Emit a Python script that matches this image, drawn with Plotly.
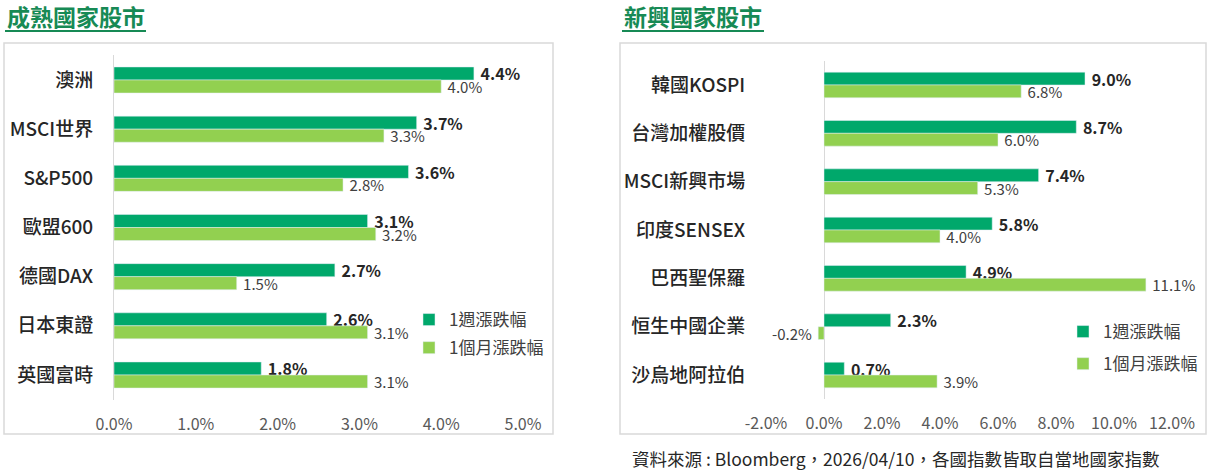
import plotly.graph_objects as go

# 成熟國家股市
dev_names = ["澳洲", "MSCI世界", "S&P500", "歐盟600", "德國DAX", "日本東證", "英國富時"]
dev_week = [4.4, 3.7, 3.6, 3.1, 2.7, 2.6, 1.8]
dev_month = [4.0, 3.3, 2.8, 3.2, 1.5, 3.1, 3.1]

# 新興國家股市
emg_names = ["韓國KOSPI", "台灣加權股價", "MSCI新興市場", "印度SENSEX", "巴西聖保羅", "恒生中國企業", "沙烏地阿拉伯"]
emg_week = [9.0, 8.7, 7.4, 5.8, 4.9, 2.3, 0.7]
emg_month = [6.8, 6.0, 5.3, 4.0, 11.1, -0.2, 3.9]

dev_ticks = [0, 1, 2, 3, 4, 5]
emg_ticks = [-2, 0, 2, 4, 6, 8, 10, 12]

W, H = 1209, 471
FONT = "Noto Sans CJK TC"
DARK = "#00a86b"
LIGHT = "#92d050"
TITLE_GREEN = "#178a55"
NB = "\u00a0"


def px(x):
    return x / W


def py(y):
    return 1 - y / H


def labels(vals):
    # small gap between bar end and label, on the side the label sits
    return [NB + "%{x:.1f}%" if v >= 0 else "%{x:.1f}%" + NB for v in vals]


fig = go.Figure()


def add_pair(names, week, month, xa, ya, leg):
    fig.add_trace(go.Bar(
        y=names, x=week, orientation="h", name="1週漲跌幅",
        marker_color=DARK, xaxis=xa, yaxis=ya, legend=leg, legendgroup=leg + "w",
        texttemplate=labels(week), textposition="outside", cliponaxis=False,
        constraintext="none",
        textfont=dict(family=FONT, size=16, color="#262626", weight=600),
    ))
    fig.add_trace(go.Bar(
        y=names, x=month, orientation="h", name="1個月漲跌幅",
        marker_color=LIGHT, xaxis=xa, yaxis=ya, legend=leg, legendgroup=leg + "m",
        texttemplate=labels(month), textposition="outside", cliponaxis=False,
        constraintext="none",
        textfont=dict(family=FONT, size=15, color="#404040"),
    ))


add_pair(dev_names, dev_week, dev_month, "x", "y", "legend")
add_pair(emg_names, emg_week, emg_month, "x2", "y2", "legend2")

xcommon = dict(showgrid=False, showline=False, ticks="outside", ticklen=10, automargin=False,
               tickcolor="rgba(0,0,0,0)", tickfont=dict(family=FONT, size=16, color="#595959"),
               fixedrange=True)
ycommon = dict(autorange="reversed", showgrid=False, ticks="outside", ticklen=16, automargin=False,
               tickcolor="rgba(0,0,0,0)", tickfont=dict(family=FONT, size=19, color="#262626", weight=500))

fig.update_layout(
    width=W, height=H,
    margin=dict(l=0, r=0, t=0, b=0, autoexpand=False),
    paper_bgcolor="white", plot_bgcolor="white",
    barmode="group", bargap=0.47, bargroupgap=0,
    font=dict(family=FONT),
    xaxis=dict(domain=[px(114), px(523)], range=[0, 5], tickvals=dev_ticks,
               ticktext=[f"{v:.1f}%" for v in dev_ticks],
               zeroline=False, anchor="y", **xcommon),
    yaxis=dict(domain=[py(399.6), py(55.4)], anchor="x", showline=True,
               linecolor="#d9d9d9", linewidth=1, **ycommon),
    xaxis2=dict(domain=[px(766), px(1172)], range=[-2, 12], tickvals=emg_ticks,
                ticktext=[f"{v:.1f}%" for v in emg_ticks],
                zeroline=True, zerolinecolor="#d9d9d9", zerolinewidth=1, anchor="y2", **xcommon),
    yaxis2=dict(domain=[py(399.2), py(60.8)], anchor="x2", showline=False, **ycommon),
    legend=dict(x=px(409), y=py(302), xanchor="left", yanchor="top",
                font=dict(family=FONT, size=17, color="#404040"), tracegroupgap=3,
                bgcolor="rgba(0,0,0,0)"),
    legend2=dict(x=px(1063), y=py(314), xanchor="left", yanchor="top",
                 font=dict(family=FONT, size=17, color="#404040"), tracegroupgap=7,
                 bgcolor="rgba(0,0,0,0)"),
    shapes=[
        dict(type="rect", xref="paper", yref="paper", x0=px(4), x1=px(553), y0=py(434), y1=py(43),
             line=dict(color="#d9d9d9", width=1.5)),
        dict(type="rect", xref="paper", yref="paper", x0=px(620), x1=px(1206), y0=py(434), y1=py(43),
             line=dict(color="#d9d9d9", width=1.5)),
        dict(type="line", xref="paper", yref="paper", x0=px(5), x1=px(146), y0=py(31), y1=py(31),
             line=dict(color=TITLE_GREEN, width=2)),
        dict(type="line", xref="paper", yref="paper", x0=px(622), x1=px(764), y0=py(31), y1=py(31),
             line=dict(color=TITLE_GREEN, width=2)),
    ],
    annotations=[
        dict(text="成熟國家股市", xref="paper", yref="paper", x=px(5), y=py(16),
             xanchor="left", yanchor="middle", showarrow=False,
             font=dict(family=FONT, size=23, color=TITLE_GREEN, weight="bold")),
        dict(text="新興國家股市", xref="paper", yref="paper", x=px(622), y=py(16),
             xanchor="left", yanchor="middle", showarrow=False,
             font=dict(family=FONT, size=23, color=TITLE_GREEN, weight="bold")),
        dict(text="資料來源 : Bloomberg，2026/04/10，各國指數皆取自當地國家指數", xref="paper", yref="paper",
             x=px(630), y=py(458), xanchor="left", yanchor="middle", showarrow=False,
             font=dict(family=FONT, size=17.5, color="#262626")),
    ],
)

fig.write_html("out.html", config={"displayModeBar": False},
               post_script="document.body.style.margin='0';")
